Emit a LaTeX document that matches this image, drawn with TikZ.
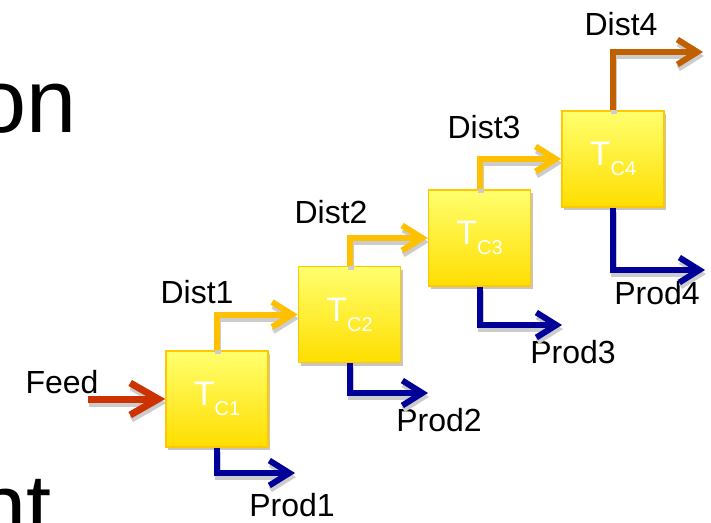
\documentclass[tikz,border=0pt]{standalone}
\usepackage{fontspec}
\setmainfont{Liberation Sans}
\usetikzlibrary{arrows.meta}
\usetikzlibrary{shadows}
\usetikzlibrary{positioning}
\definecolor{feedred}{RGB}{204,51,0}
\definecolor{distyellow}{RGB}{255,192,0}
\definecolor{distbrown}{RGB}{192,96,0}
\definecolor{prodblue}{RGB}{0,0,153}
\definecolor{coltop}{RGB}{255,255,110}
\definecolor{colbot}{RGB}{255,222,0}
\definecolor{coledge}{RGB}{255,200,0}
\tikzset{x=1pt, y=-1pt, >={Straight Barb[length=20pt,width=25pt,line width=6pt]}, font=\fontsize{32}{32}\selectfont}
\tikzstyle{column} = [draw=coledge, line width=1.5pt, top color=coltop, bottom color=colbot, minimum width=102pt, minimum height=96pt, inner sep=0pt, text=white, font=\fontsize{34}{34}\selectfont, drop shadow={shadow xshift=2pt, shadow yshift=-3pt, fill=gray!45, opacity=1}]
\tikzstyle{stream} = [->, line width=6pt]
\tikzstyle{feedstream} = [-{Straight Barb[length=28pt,width=32pt,line width=7pt]}, line width=7pt]
\tikzstyle{shade} = [draw=gray!40]
\tikzstyle{tag} = [inner sep=0pt]
\tikzstyle{big} = [inner sep=0pt, font=\fontsize{90}{90}\selectfont]
\tikzstyle{port} = [coordinate]
\newcommand{\tc}[1]{T\raisebox{-0.3em}{\fontsize{20}{20}\selectfont C#1}}
\newcommand{\streamlist}{tc1.north/tc2.west/distyellow, tc2.north/tc3.west/distyellow, tc3.north/tc4.west/distyellow, tc4.north/d4out/distbrown, tc1.south/p1out/prodblue, tc2.south/p2out/prodblue, tc3.south/p3out/prodblue, tc4.south/p4out/prodblue}

\begin{document}
\begin{tikzpicture}
		\useasboundingbox (0,0) rectangle (711,522);
		\clip (0,0) rectangle (711,522);

		% slide text behind the picture
		\node [big, anchor=base east] (word1) at (77,132) {on};
		\node [big, anchor=base east] (word2) at (52,537) {nt};

		\node [column] (tc1) at (217,399) {\tc{1}};
		\node [column] (tc2) at (349.5,314.5) {\tc{2}};
		\node [column] (tc3) at (479.5,238) {\tc{3}};
		\node [column] (tc4) at (613,159) {\tc{4}};

		\node [port] (feedin) at (88,399) {};
		\node [port] (d4out) at (703,52) {};
		\node [port] (p1out) at (295,473) {};
		\node [port] (p2out) at (428,393) {};
		\node [port] (p3out) at (562,325) {};
		\node [port] (p4out) at (705,270) {};

		\node [tag] (feed) at (62,382) {Feed};
		\node [tag] (dist1) at (197,292) {Dist1};
		\node [tag] (dist2) at (331,212) {Dist2};
		\node [tag] (dist3) at (484,127) {Dist3};
		\node [tag] (dist4) at (621,24) {Dist4};
		\node [tag] (prod1) at (292,505) {Prod1};
		\node [tag] (prod2) at (439,420) {Prod2};
		\node [tag] (prod3) at (573,352) {Prod3};
		\node [tag] (prod4) at (657,293) {Prod4};

		% shadows under the streams
		\begin{scope}[transform canvas={xshift=1pt, yshift=-4pt}]
			\draw [feedstream, shade] (feedin) -- (tc1.west);
			\foreach \from/\to/\col in \streamlist
				\draw [stream, shade] (\from) |- (\to);
		\end{scope}

		\draw [feedstream, draw=feedred] (feedin) -- (tc1.west);
		\foreach \from/\to/\col in \streamlist
			\draw [stream, draw=\col] (\from) |- (\to);
	\end{tikzpicture}
\end{document}
